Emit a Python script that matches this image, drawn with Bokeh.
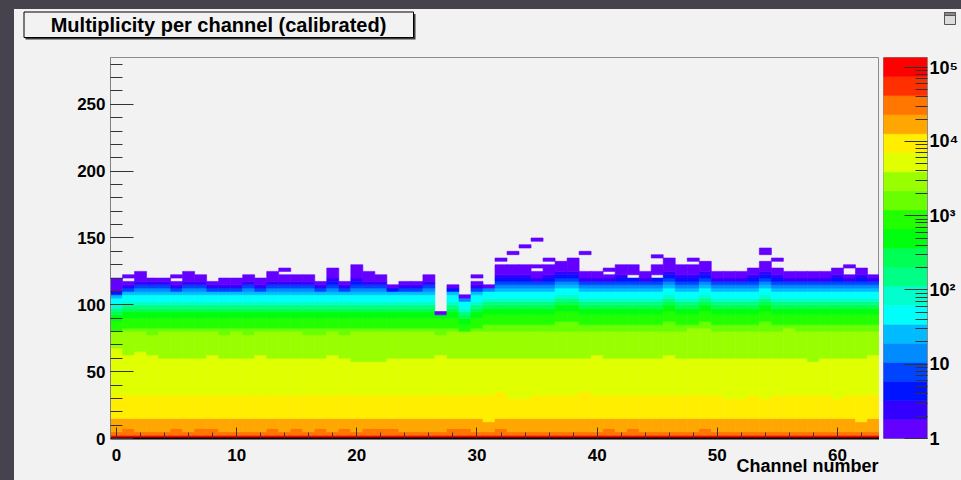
import numpy as np
from bokeh.plotting import figure
from bokeh.models import (ColumnDataSource, Range1d, FixedTicker, SingleIntervalTicker,
                          LinearAxis)
from bokeh.core.properties import value
from bokeh.layouts import row, column
from bokeh.embed import file_html
from bokeh.resources import INLINE

# ROOT "pretty" palette, 20 contour levels (violet -> red)
palette = ["#6300ff", "#3300ff", "#0014ff", "#0044ff", "#008bff", "#00bbff",
           "#00fffb", "#00ffcc", "#00ff85", "#00ff55", "#00ff0e", "#22ff00",
           "#69ff00", "#99ff00", "#e0ff00", "#ffee00", "#ffa700", "#ff7700",
           "#ff3000", "#ff0000"]
z_min, z_max = 1.0, 1.35e5
n_channels = 64
y_bin = 2.5
y_max = 285.0

# green -> cyan bands: level and top edge relative to the channel's cyan top
green_levels = [12, 11, 10, 9, 8, 7, 6]
green_offsets = [-25, -17.5, -12.5, -10, -7.5, -5, 0]
# blue levels between cyan band and violet top, by number of bins available
blue_fill = {0: [], 1: [4], 2: [5, 2], 3: [5, 3, 1], 4: [5, 4, 3, 1],
             5: [5, 4, 3, 2, 1], 6: [5, 4, 3, 2, 2, 1], 7: [5, 4, 3, 2, 2, 1, 1]}

# per-channel readings (y edges in histogram units)
dark_orange_top = [5, 7.5, 5, 5, 5, 7.5, 5, 7.5, 7.5, 5, 5, 5, 5, 7.5, 5, 7.5,
                   5, 7.5, 5, 7.5, 5, 7.5, 7.5, 7.5, 5, 5, 5, 5, 7.5, 7.5, 5, 5,
                   7.5, 5, 5, 5, 5, 5, 5, 5, 5, 7.5, 5, 7.5, 5, 5, 5, 5,
                   5, 7.5, 5, 5, 5, 5, 5, 5, 5, 5, 5, 5, 5, 5, 5, 5]
orange_top = [15, 15, 15, 15, 15, 15, 15, 15, 15, 15, 15, 15, 15, 15, 15, 15,
              15, 15, 15, 15, 15, 15, 15, 15, 15, 15, 15, 15, 15, 15, 15, 12.5,
              15, 15, 15, 15, 15, 15, 15, 15, 15, 15, 15, 15, 15, 15, 15, 15,
              15, 15, 15, 15, 15, 15, 15, 15, 15, 15, 15, 15, 15, 15, 12.5, 15]
yellow_top = [32.5, 32.5, 32.5, 32.5, 32.5, 32.5, 32.5, 32.5, 32.5, 32.5, 32.5, 32.5, 32.5, 32.5, 32.5, 32.5,
              32.5, 32.5, 32.5, 32.5, 32.5, 32.5, 32.5, 32.5, 32.5, 32.5, 32.5, 32.5, 32.5, 32.5, 32.5, 32.5,
              35, 30, 30, 32.5, 32.5, 32.5, 32.5, 35, 32.5, 32.5, 32.5, 32.5, 32.5, 32.5, 32.5, 32.5,
              32.5, 32.5, 32.5, 30, 30, 32.5, 30, 32.5, 32.5, 32.5, 32.5, 32.5, 30, 32.5, 32.5, 32.5]
lime_top = [67.5, 62.5, 65, 62.5, 60, 60, 60, 60, 62.5, 60, 60, 60, 62.5, 60, 60, 60,
            60, 60, 62.5, 60, 57.5, 57.5, 57.5, 60, 60, 60, 60, 62.5, 60, 60, 60, 60,
            60, 60, 60, 60, 60, 60, 60, 60, 62.5, 60, 60, 60, 60, 60, 62.5, 60,
            60, 60, 60, 60, 60, 60, 60, 60, 60, 60, 57.5, 60, 60, 60, 60, 62.5]
chartreuse_top = [80, 80, 80, 77.5, 80, 80, 80, 80, 80, 77.5, 80, 77.5, 80, 80, 80, 80,
                  77.5, 77.5, 80, 77.5, 80, 80, 80, 80, 80, 80, 80, 77.5, 80, 80, 80, 80,
                  80, 80, 80, 80, 80, 80, 80, 80, 80, 80, 80, 80, 80, 80, 80, 80,
                  82.5, 82.5, 80, 80, 80, 80, 80, 80, 82.5, 80, 80, 80, 80, 80, 80, 80]
cyan_top = [105, 107.5, 107.5, 107.5, 107.5, 107.5, 107.5, 107.5, 107.5, 107.5, 107.5, 107.5, 107.5, 107.5, 107.5, 107.5,
            107.5, 107.5, 107.5, 107.5, 107.5, 107.5, 107.5, 107.5, 107.5, 107.5, 107.5, 107.5, 107.5, 102.5, 107.5, 110,
            110, 110, 110, 110, 110, 112.5, 112.5, 110, 110, 110, 110, 110, 110, 110, 112.5, 110,
            110, 112.5, 110, 110, 110, 110, 112.5, 110, 110, 110, 110, 110, 110, 110, 110, 110]
col_top = [120, 117.5, 125, 120, 120, 117.5, 125, 122.5, 117.5, 120, 120, 122.5, 120, 125, 122.5, 122.5,
           122.5, 117.5, 127.5, 117.5, 130, 125, 122.5, 115, 117.5, 117.5, 122.5, 95, 115, 107.5, 117.5, 115,
           130, 130, 130, 125, 130, 132.5, 135, 125, 125, 122.5, 130, 130, 125, 130, 135, 130,
           130, 132.5, 125, 125, 125, 127.5, 132.5, 127.5, 125, 125, 125, 125, 127.5, 122.5, 127.5, 122.5]
violet_bins = [4, 1, 3, 1, 1, 1, 3, 2, 1, 2, 2, 2, 2, 3, 2, 2,
               2, 1, 3, 1, 4, 3, 2, 1, 1, 1, 2, 1, 1, 1, 1, 1,
               3, 3, 3, 2, 3, 3, 4, 2, 2, 1, 3, 3, 2, 3, 4, 3,
               3, 3, 2, 2, 2, 2, 3, 2, 2, 2, 2, 2, 2, 1, 2, 1]
# isolated cells above the columns: (channel, lower edge)
iso_ch = [1, 5, 14, 30, 32, 33, 34, 35, 35, 36, 39, 41, 45, 48, 54, 54, 55, 61]
iso_y = [120, 120, 125, 120, 132.5, 137.5, 142.5, 147.5, 127.5, 132.5, 137.5, 125, 135, 132.5, 137.5, 140, 132.5, 127.5]
# empty cells inside columns: (channel, lower edge)
hole_ch = [43, 45]
hole_y = [120, 120]

# ---------- build merged cell runs ----------
L, R, B, T, C = [], [], [], [], []


def add_seg(ch, a, b, lv):
    holes = sorted(hy for hc, hy in zip(hole_ch, hole_y) if hc == ch and a <= hy < b)
    for h in holes:
        if h > a:
            L.append(ch - 0.5); R.append(ch + 0.5); B.append(a); T.append(h); C.append(palette[lv])
        a = h + y_bin
    if b > a:
        L.append(ch - 0.5); R.append(ch + 0.5); B.append(a); T.append(b); C.append(palette[lv])


for ch in range(n_channels):
    top = col_top[ch]
    cy = cyan_top[ch]
    v0 = top - violet_bins[ch] * y_bin
    edges = [(19, 2.5), (17, dark_orange_top[ch]), (16, orange_top[ch]),
             (15, yellow_top[ch]), (14, lime_top[ch]), (13, chartreuse_top[ch])]
    edges += [(lv, cy + off) for lv, off in zip(green_levels, green_offsets)]
    y0 = 0.0
    for lv, yt in edges:
        yt = min(yt, v0)
        if yt > y0:
            add_seg(ch, y0, yt, lv)
            y0 = yt
    n_blue = int(round((v0 - y0) / y_bin))
    for lv in blue_fill.get(n_blue, []):
        add_seg(ch, y0, y0 + y_bin, lv)
        y0 += y_bin
    if top > y0:
        add_seg(ch, y0, top, 0)
for ch, yy in zip(iso_ch, iso_y):
    add_seg(ch, yy, yy + y_bin, 0)

cells = ColumnDataSource(dict(left=L, right=R, bottom=B, top=T, color=C))

BG = "#f2f2f2"
DARK = "#46434f"
FONT = "Liberation Sans"
X_TITLE = "Channel number"
X_TITLE_CENTER = 57.5   # title is right-justified at the axis end, as ROOT draws it

# ---------- main histogram ----------
p = figure(width=865, height=423, x_range=Range1d(-0.5, 63.5), y_range=Range1d(0, y_max),
           output_backend="svg", toolbar_location=None,
           min_border_left=96, min_border_right=0, min_border_top=0, min_border_bottom=42)
p.background_fill_color = BG
p.border_fill_color = BG
p.outline_line_color = "#8c8c8c"
p.grid.visible = False
p.quad(left="left", right="right", bottom="bottom", top="top", source=cells,
       fill_color="color", line_color="color", line_width=0.6)

p.yaxis.ticker = SingleIntervalTicker(interval=50, num_minor_ticks=5)
p.xaxis.ticker = SingleIntervalTicker(interval=10, num_minor_ticks=5)
for ax in (p.xaxis[0], p.yaxis[0]):
    ax.major_tick_out = 0
    ax.minor_tick_out = 0
    ax.major_label_text_font = FONT
    ax.major_label_text_font_style = "bold"
    ax.major_label_text_font_size = "17px"
    ax.major_label_text_color = "black"
    ax.major_tick_line_color = "#333333"
    ax.minor_tick_line_color = "#333333"
p.yaxis.major_tick_in = 23
p.yaxis.minor_tick_in = 12
p.yaxis.axis_line_color = "#808080"
p.yaxis.major_label_standoff = 5
p.xaxis.major_tick_in = 11
p.xaxis.minor_tick_in = 6
p.xaxis.axis_line_color = "black"
p.xaxis.axis_line_width = 2
p.xaxis.major_label_standoff = 10

# companion axis below carrying the x-axis title at its right end
title_axis = LinearAxis(ticker=FixedTicker(ticks=[X_TITLE_CENTER], minor_ticks=[]),
                        major_label_overrides={X_TITLE_CENTER: X_TITLE},
                        major_label_standoff=-8,
                        axis_line_color=None, major_tick_line_color=None,
                        minor_tick_line_color=None, major_tick_in=0, major_tick_out=0,
                        minor_tick_in=0, minor_tick_out=0,
                        major_label_text_font=FONT, major_label_text_font_style="bold",
                        major_label_text_font_size="18px", major_label_text_color="black")
p.add_layout(title_axis, "below")

# ---------- colour scale ----------
dz = np.log10(z_max / z_min) / len(palette)
lev_idx = list(range(len(palette)))
cb_src = ColumnDataSource(dict(
    bottom=[z_min * 10 ** (k * dz) for k in lev_idx],
    top=[z_min * 10 ** ((k + 1) * dz) for k in lev_idx],
    color=palette))
cb = figure(width=82, height=423, x_range=Range1d(0, 1), y_range=Range1d(z_min, z_max),
            y_axis_type="log", y_axis_location="right", output_backend="svg",
            toolbar_location=None, min_border_left=4, min_border_right=0,
            min_border_top=0, min_border_bottom=42)
cb.background_fill_color = BG
cb.border_fill_color = BG
cb.outline_line_color = "#8c8c8c"
cb.grid.visible = False
cb.xaxis.visible = False
cb.quad(left=0, right=1, bottom="bottom", top="top", source=cb_src,
        fill_color="color", line_color="color", line_width=0.6)
major = [1, 10, 100, 1000, 10000, 100000]
minor = [m * d for d in major for m in range(2, 10) if m * d < z_max]
cb.yaxis.ticker = FixedTicker(ticks=major, minor_ticks=minor)
cb.yaxis.major_label_overrides = {1: "1", 10: "10", 100: "10²", 1000: "10³",
                                  10000: "10⁴", 100000: "10⁵"}
ax = cb.yaxis[0]
ax.major_tick_in = 23
ax.major_tick_out = 0
ax.minor_tick_in = 12
ax.minor_tick_out = 0
ax.major_tick_line_color = "#333333"
ax.minor_tick_line_color = "#333333"
ax.axis_line_color = "#8c8c8c"
ax.major_label_standoff = 2
ax.major_label_text_font = FONT
ax.major_label_text_font_style = "bold"
ax.major_label_text_font_size = "18px"
ax.major_label_text_color = "black"

# ---------- title strip (ROOT title pave with shadow) ----------
tf = figure(width=947, height=48, x_range=Range1d(0, 947), y_range=Range1d(48, 0),
            output_backend="svg", toolbar_location=None, min_border=0,
            x_axis_location=None, y_axis_location=None)
tf.background_fill_color = BG
tf.border_fill_color = BG
tf.outline_line_color = None
tf.grid.visible = False
tf.quad(left=[11], right=[401], top=[4.5], bottom=[30], fill_color="#3a3a3a", line_color=None)
tf.quad(left=[9.5], right=[399], top=[2.5], bottom=[28], fill_color=BG,
        line_color="black", line_width=1)
tf.text(x=[204], y=[15.5], text=["Multiplicity per channel (calibrated)"],
        text_font=value(FONT), text_font_style="bold", text_font_size="20px",
        text_align="center", text_baseline="middle", text_color="black")
# small canvas-editor icon in the corner
tf.quad(left=[930], right=[941], top=[3], bottom=[15], fill_color="#dcdcdc",
        line_color="#555555", line_width=1)
tf.quad(left=[930], right=[941], top=[3], bottom=[6], fill_color="#8a8a8a",
        line_color="#555555", line_width=1)

inner = column(tf, row(p, cb, spacing=0), spacing=0, styles={"background-color": BG})
inner.margin = (9, 0, 0, 14)
layout = column(inner, styles={"background-color": DARK})

open("out.html", "w").write(file_html(layout, INLINE))
